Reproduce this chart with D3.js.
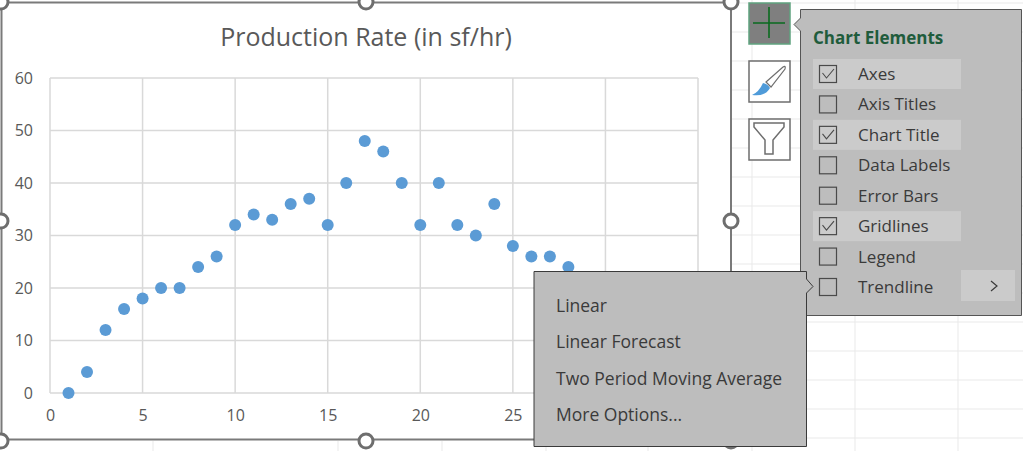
<!DOCTYPE html>
<html>
<head>
<meta charset="utf-8">
<script src="https://cdnjs.cloudflare.com/ajax/libs/d3/7.8.5/d3.min.js"></script>
<style>
  html, body { margin: 0; padding: 0; background: #fff; overflow: hidden; }
  svg { display: block; font-family: "Open Sans", "Noto Sans", sans-serif; }
</style>
</head>
<body>
<svg id="root" width="1023" height="451"></svg>
<script>
  var xValues = [1, 2, 3, 4, 5, 6, 7, 8, 9, 10, 11, 12, 13, 14, 15, 16, 17, 18, 19, 20, 21, 22, 23, 24, 25, 26, 27, 28];
  var yValues = [0, 4, 12, 16, 18, 20, 20, 24, 26, 32, 34, 33, 36, 37, 32, 40, 48, 46, 40, 32, 40, 32, 30, 36, 28, 26, 26, 24];
  var xTicks = [0, 5, 10, 15, 20, 25, 30, 35];
  var xTickLabels = [0, 5, 10, 15, 20, 25]; // 30 and 35 sit under the flyout
  var yTicks = [0, 10, 20, 30, 40, 50, 60];
  var chartTitle = 'Production Rate (in sf/hr)';
  var elementNames = ['Axes', 'Axis Titles', 'Chart Title', 'Data Labels', 'Error Bars', 'Gridlines', 'Legend', 'Trendline'];
  var elementChecked = [true, false, true, false, false, true, false, false];
  var trendlineNames = ['Linear', 'Linear Forecast', 'Two Period Moving Average', 'More Options...'];

  var svg = d3.select('#root');

  // ---- Sheet cells behind the chart ----------------------------------------
  var sheet = svg.append('g').attr('stroke', '#e9e9e9').attr('stroke-width', 1);
  d3.range(3, 451, 29).forEach(function(y) {
    sheet.append('line').attr('x1', 731).attr('x2', 1023).attr('y1', y).attr('y2', y);
  });
  [752, 855, 958].forEach(function(x) {
    sheet.append('line').attr('x1', x).attr('x2', x).attr('y1', 0).attr('y2', 451);
  });
  [153, 338, 442, 546, 648].forEach(function(x) {
    sheet.append('line').attr('x1', x).attr('x2', x).attr('y1', 441).attr('y2', 451);
  });

  // ---- Chart ---------------------------------------------------------------
  svg.append('rect')
    .attr('x', 1.5).attr('y', 2.5).attr('width', 729.5).attr('height', 437)
    .attr('fill', '#fff').attr('stroke', '#7a7a7a').attr('stroke-width', 2);

  var x = d3.scaleLinear().domain([0, 35]).range([50, 698]);
  var y = d3.scaleLinear().domain([0, 60]).range([393, 78]);

  var grid = svg.append('g').attr('stroke', '#d9d9d9').attr('stroke-width', 1.5);
  grid.selectAll('line.v').data(xTicks).enter().append('line')
    .attr('class', 'v')
    .attr('x1', function(d) { return x(d); }).attr('x2', function(d) { return x(d); })
    .attr('y1', y(60)).attr('y2', y(0));
  grid.selectAll('line.h').data(yTicks).enter().append('line')
    .attr('class', 'h')
    .attr('x1', x(0)).attr('x2', x(35))
    .attr('y1', function(d) { return y(d); }).attr('y2', function(d) { return y(d); });

  var xAxis = svg.append('g')
    .attr('transform', 'translate(0,' + y(0) + ')')
    .call(d3.axisBottom(x).tickValues(xTickLabels).tickSize(0).tickPadding(17));
  var yAxis = svg.append('g')
    .attr('transform', 'translate(' + x(0) + ',0)')
    .call(d3.axisLeft(y).tickValues(yTicks).tickSize(0).tickPadding(17));
  [xAxis, yAxis].forEach(function(a) {
    a.select('.domain').remove();
    a.selectAll('text').attr('fill', '#595959').style('font-size', '16px')
      .style('font-family', '"Open Sans", "Noto Sans", sans-serif');
  });

  svg.selectAll('circle.pt').data(xValues).enter().append('circle')
    .attr('class', 'pt')
    .attr('cx', function(d) { return x(d); })
    .attr('cy', function(d, i) { return y(yValues[i]); })
    .attr('r', 6)
    .attr('fill', '#5b9bd5');

  svg.append('text')
    .attr('x', 366).attr('y', 46).attr('text-anchor', 'middle')
    .attr('fill', '#595959').style('font-size', '25px')
    .text(chartTitle);

  // ---- Selection handles ---------------------------------------------------
  var handles = [[1, 2], [366, 2], [731, 2], [1, 221], [731, 221], [1, 441], [366, 441], [731, 441]];
  svg.selectAll('circle.handle').data(handles).enter().append('circle')
    .attr('class', 'handle')
    .attr('cx', function(d) { return d[0]; })
    .attr('cy', function(d) { return d[1]; })
    .attr('r', 7)
    .attr('fill', '#fff').attr('stroke', '#6e6e6e').attr('stroke-width', 3);

  // ---- Side buttons --------------------------------------------------------
  svg.append('rect').attr('x', 749).attr('y', 3).attr('width', 41).attr('height', 41)
    .attr('fill', '#7f7f7f').attr('stroke', '#5fa37f').attr('stroke-width', 1.5);
  svg.append('path').attr('d', 'M769 7V38M753 23H785').attr('stroke', '#0a6b1f').attr('stroke-width', 1.6);

  svg.append('rect').attr('x', 749).attr('y', 61).attr('width', 41).attr('height', 41)
    .attr('fill', '#fff').attr('stroke', '#6e6e6e').attr('stroke-width', 1.5);
  svg.append('path').attr('d', 'M766 82L783 67Q786 65 785 69L771 87Z')
    .attr('fill', '#fff').attr('stroke', '#6e6e6e').attr('stroke-width', 1.2);
  svg.append('path').attr('d', 'M763 83Q768 84 770 88Q765 97 752 95Q759 92 763 83Z').attr('fill', '#4f9bd9');

  svg.append('rect').attr('x', 749).attr('y', 119).attr('width', 41).attr('height', 41)
    .attr('fill', '#fff').attr('stroke', '#6e6e6e').attr('stroke-width', 1.5);
  svg.append('path').attr('d', 'M754 123H784V127L773 140V154H765V140L754 127Z')
    .attr('fill', '#fff').attr('stroke', '#6e6e6e').attr('stroke-width', 1.5);

  // ---- Chart Elements panel ------------------------------------------------
  svg.append('path')
    .attr('d', 'M800.5 9.5H1021.5V315.5H800.5V31L794 24.5L800.5 18Z')
    .attr('fill', '#bdbdbd').attr('stroke', '#555').attr('stroke-width', 1);
  svg.append('text').attr('x', 813).attr('y', 44)
    .attr('fill', '#1f5c3c').style('font-size', '17px').style('font-weight', 700)
    .text('Chart Elements');

  var rowY = d3.scalePoint().domain(elementNames).range([74, 287]);
  var rows = svg.selectAll('g.row').data(elementNames).enter().append('g').attr('class', 'row');
  rows.filter(function(d, i) { return elementChecked[i]; }).append('rect')
    .attr('x', 813).attr('width', 148).attr('height', 30)
    .attr('y', function(d) { return rowY(d) - 15; })
    .attr('fill', '#cbcbcb');
  rows.append('rect')
    .attr('x', 819.5).attr('width', 17).attr('height', 17)
    .attr('y', function(d) { return rowY(d) - 8.5; })
    .attr('fill', 'none').attr('stroke', '#4a4a4a').attr('stroke-width', 1.2);
  rows.filter(function(d, i) { return elementChecked[i]; }).append('path')
    .attr('d', function(d) {
      var c = rowY(d);
      return 'M822.5 ' + (c - 1) + 'L826.5 ' + (c + 4) + 'L834 ' + (c - 5);
    })
    .attr('fill', 'none').attr('stroke', '#4a4a4a').attr('stroke-width', 1.1);
  rows.append('text')
    .attr('x', 858).attr('y', function(d) { return rowY(d) + 6; })
    .attr('fill', '#3a3a3a').style('font-size', '17px')
    .text(function(d) { return d; });

  svg.append('rect').attr('x', 961).attr('y', 270).attr('width', 54).attr('height', 31).attr('fill', '#cbcbcb');
  svg.append('path').attr('d', 'M991 281L997 286L991 291').attr('fill', 'none').attr('stroke', '#3a3a3a').attr('stroke-width', 1.2);

  // ---- Trendline flyout ----------------------------------------------------
  svg.append('path')
    .attr('d', 'M534 271.5H806.5V279L813 286.5L806.5 293V446.5H534Z')
    .attr('fill', '#bdbdbd').attr('stroke', '#3a3a3a').attr('stroke-width', 1);
  var menuY = d3.scalePoint().domain(trendlineNames).range([312, 421]);
  svg.selectAll('text.menu').data(trendlineNames).enter().append('text')
    .attr('class', 'menu')
    .attr('x', 556).attr('y', function(d) { return menuY(d); })
    .attr('fill', '#3a3a3a').style('font-size', '17.5px')
    .text(function(d) { return d; });
</script>
</body>
</html>
